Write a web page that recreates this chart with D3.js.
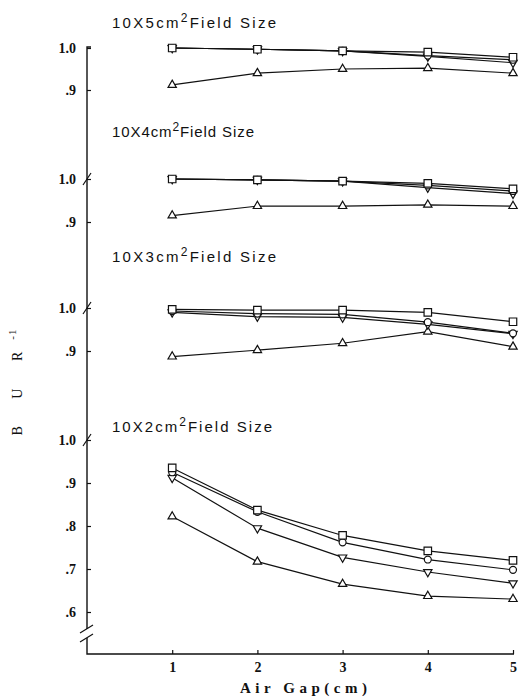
<!DOCTYPE html>
<html>
<head>
<meta charset="utf-8">
<script src="https://cdn.jsdelivr.net/npm/d3@7"></script>
<style>
  body { margin: 0; background: #fff; }
  svg { display: block; }
  .tick text { font-family: "Liberation Serif", "DejaVu Serif", serif; font-weight: bold; font-size: 14px; fill: #111; }
  .tick line { stroke: #111; stroke-width: 1.2; }
</style>
</head>
<body>
<div class="chart"></div>
<script>
//! CONSTS
const WIDTH = 527;
const HEIGHT = 698;

//! DATA
const airGap = [1, 2, 3, 4, 5];
const fieldSizes = ['10X5', '10X4', '10X3', '10X2'];

// 10x5 cm2
const f5Square = [1.0, 0.997, 0.993, 0.990, 0.978];
const f5Circle = [1.0, 0.997, 0.993, 0.982, 0.972];
const f5Down = [1.0, 0.997, 0.993, 0.980, 0.965];
const f5Up = [0.912, 0.940, 0.950, 0.952, 0.940];

// 10x4 cm2
const f4Square = [1.0, 0.998, 0.995, 0.990, 0.977];
const f4Circle = [1.0, 0.998, 0.995, 0.985, 0.972];
const f4Down = [1.0, 0.998, 0.995, 0.980, 0.966];
const f4Up = [0.915, 0.937, 0.937, 0.940, 0.937];

// 10x3 cm2
const f3Square = [0.997, 0.995, 0.995, 0.990, 0.968];
const f3Circle = [0.993, 0.987, 0.985, 0.967, 0.941];
const f3Down = [0.990, 0.980, 0.978, 0.962, 0.940];
const f3Up = [0.887, 0.902, 0.918, 0.945, 0.910];

// 10x2 cm2
const f2Square = [0.935, 0.837, 0.778, 0.742, 0.720];
const f2Circle = [0.925, 0.833, 0.762, 0.722, 0.698];
const f2Down = [0.912, 0.795, 0.727, 0.693, 0.667];
const f2Up = [0.822, 0.717, 0.665, 0.637, 0.630];

const shortTicks = [0.9, 1.0];
const longTicks = [0.6, 0.7, 0.8, 0.9, 1.0];
const xTickLabels = ['1', '2', '3', '4', '5'];

//! LAYOUT
const AXIS_X = 87;
const AXIS_Y = 654;
const panels = [
  { title: fieldSizes[0], titleY: 28, titleW: 164, y1: 48, y09: 90, ticks: shortTicks, sq: f5Square, ci: f5Circle, dn: f5Down, up: f5Up },
  { title: fieldSizes[1], titleY: 137, titleW: 142, y1: 179, y09: 222, ticks: shortTicks, sq: f4Square, ci: f4Circle, dn: f4Down, up: f4Up },
  { title: fieldSizes[2], titleY: 262, titleW: 164, y1: 308, y09: 351, ticks: shortTicks, sq: f3Square, ci: f3Circle, dn: f3Down, up: f3Up },
  { title: fieldSizes[3], titleY: 432, titleW: 160, y1: 440, y09: 483, ticks: longTicks, sq: f2Square, ci: f2Circle, dn: f2Down, up: f2Up }
];

//! SVG
const svg = d3.select('.chart')
  .append('svg')
  .attr('width', WIDTH)
  .attr('height', HEIGHT);

const x = d3.scaleLinear().domain([0, 5]).range([AXIS_X, 513]);

const fmt = d => d === 1 ? '1.0' : d3.format('.1f')(d).replace(/^0/, '');

const symbols = {
  up: d3.symbol().type(d3.symbolTriangle).size(30),
  dn: d3.symbol().type(d3.symbolTriangle).size(30),
  ci: d3.symbol().type(d3.symbolCircle).size(38),
  sq: d3.symbol().type(d3.symbolSquare).size(56)
};

panels.forEach((p, pi) => {
  // y scale: 0.1 between 1.0 and .9 ticks
  const y = d3.scaleLinear()
    .domain([0.9, 1.0])
    .range([p.y09, p.y1]);

  const g = svg.append('g').attr('class', 'panel');

  // y axis ticks pointing inward
  g.append('g')
    .attr('transform', `translate(${AXIS_X},0)`)
    .call(d3.axisLeft(y).tickValues(p.ticks).tickFormat(fmt).tickSizeInner(-4).tickSizeOuter(0).tickPadding(11))
    .call(a => a.select('.domain').remove());

  // break slash at top of lower panels
  if (pi > 0) {
    g.append('line')
      .attr('x1', AXIS_X - 4).attr('y1', y(1.0) + 6)
      .attr('x2', AXIS_X + 4).attr('y2', y(1.0) - 6)
      .attr('stroke', '#111').attr('stroke-width', 1.2);
  }

  // title
  const t = g.append('text')
    .attr('x', 112).attr('y', p.titleY)
    .attr('font-family', '"Liberation Sans", Arial, sans-serif')
    .attr('font-size', 15)
    .attr('textLength', p.titleW)
    .attr('lengthAdjust', 'spacing')
    .attr('fill', '#111');
  t.append('tspan').text(p.title + 'cm');
  t.append('tspan').attr('dy', -6).attr('font-size', 12).text('2');
  t.append('tspan').attr('dy', 6).text('Field Size');

  const line = d3.line()
    .x((d, i) => x(airGap[i]))
    .y(d => y(d));

  ['up', 'dn', 'ci', 'sq'].forEach(key => {
    g.append('path')
      .datum(p[key])
      .attr('d', line)
      .attr('fill', 'none')
      .attr('stroke', '#111')
      .attr('stroke-width', 1.2);
  });

  ['up', 'dn', 'ci', 'sq'].forEach(key => {
    g.selectAll(`.m-${key}`)
      .data(p[key])
      .enter()
      .append('path')
      .attr('class', `m-${key}`)
      .attr('d', symbols[key])
      .attr('transform', (d, i) => `translate(${x(airGap[i])},${y(d)})${key === 'dn' ? ' rotate(180)' : ''}`)
      .attr('fill', '#fff')
      .attr('stroke', '#111')
      .attr('stroke-width', 1.2);
  });
});

// continuous y axis line (with top hook) and bottom break
svg.append('path')
  .attr('d', `M${AXIS_X + 4},47 L${AXIS_X},47 L${AXIS_X},629`)
  .attr('fill', 'none').attr('stroke', '#111').attr('stroke-width', 1.4);
svg.append('path')
  .attr('d', `M${AXIS_X},638 L${AXIS_X},${AXIS_Y} L514,${AXIS_Y}`)
  .attr('fill', 'none').attr('stroke', '#111').attr('stroke-width', 1.4);
[629, 638].forEach(yy => {
  svg.append('line')
    .attr('x1', AXIS_X - 7).attr('y1', yy + 4)
    .attr('x2', AXIS_X + 6).attr('y2', yy - 4)
    .attr('stroke', '#111').attr('stroke-width', 1.2);
});

// x axis
svg.append('g')
  .attr('transform', `translate(0,${AXIS_Y})`)
  .call(d3.axisBottom(x).tickValues(airGap).tickFormat((d, i) => xTickLabels[i]).tickSizeInner(-4).tickSizeOuter(0).tickPadding(8))
  .call(a => a.select('.domain').remove());

svg.append('text')
  .attr('x', 240).attr('y', 693)
  .attr('font-family', '"Liberation Serif", "DejaVu Serif", serif')
  .attr('font-weight', 'bold')
  .attr('font-size', 15)
  .attr('textLength', 127)
  .attr('lengthAdjust', 'spacing')
  .attr('fill', '#111')
  .text('Air Gap(cm)');

// y label
const yl = svg.append('text')
  .attr('transform', 'translate(22,382) rotate(-90)')
  .attr('text-anchor', 'middle')
  .attr('font-family', '"Liberation Serif", "DejaVu Serif", serif')
  .attr('font-size', 14)
  .attr('letter-spacing', 12)
  .attr('fill', '#111');
yl.append('tspan').text('B U R');
yl.append('tspan').attr('dy', -6).attr('font-size', 11).attr('letter-spacing', 1).text('-1');
</script>
</body>
</html>
